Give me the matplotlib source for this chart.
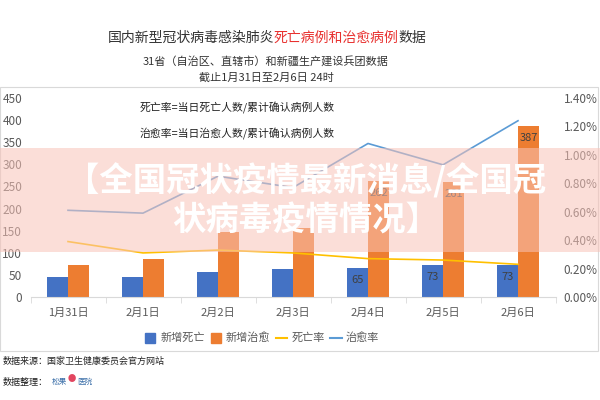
import matplotlib
matplotlib.use("Agg")
import matplotlib.pyplot as plt
from matplotlib.patches import Rectangle
from matplotlib.lines import Line2D
from matplotlib.ticker import FuncFormatter, MultipleLocator

plt.rcParams['font.family'] = ['Noto Sans CJK SC', 'DejaVu Sans']

dates = ["1月31日", "2月1日", "2月2日", "2月3日", "2月4日", "2月5日", "2月6日"]
new_deaths = [46, 45, 57, 64, 65, 73, 73]
new_cured = [72, 85, 147, 157, 262, 261, 387]
death_rate = [0.39, 0.31, 0.33, 0.31, 0.27, 0.26, 0.23]   # percent
cure_rate = [0.61, 0.59, 0.85, 0.77, 1.08, 0.93, 1.24]    # percent
labeled_days = [4, 5, 6]

C_BLUE = "#4472C4"
C_ORANGE = "#ED7D31"
C_YELLOW = "#FFC000"
C_LBLUE = "#5B9BD5"
C_TICK = "#595959"

fig = plt.figure(figsize=(6, 4), dpi=100)
fig.patch.set_facecolor("white")

# chart frame
fig.add_artist(Rectangle((0.0, 1 - 351 / 400), 598 / 600, (351 - 87) / 400,
                         transform=fig.transFigure, fill=False,
                         edgecolor="#D9D9D9", linewidth=0.8))

ax = fig.add_axes([30.5 / 600, 1 - 297 / 400, 525 / 600, 199 / 400])
ax2 = ax.twinx()

x = list(range(len(dates)))
w = 0.28
xb = [i - w / 2 for i in x]
xo = [i + w / 2 for i in x]
ax.bar(xb, new_deaths, width=w, color=C_BLUE, zorder=2)
ax.bar(xo, new_cured, width=w, color=C_ORANGE, zorder=2)

for i in labeled_days:
    ax.annotate(str(new_deaths[i]), (xb[i], new_deaths[i]), xytext=(0, -5),
                textcoords="offset points", ha="center", va="top",
                fontsize=8, color="#404040", zorder=3)
    ax.annotate(str(new_cured[i]), (xo[i], new_cured[i]), xytext=(0, -5),
                textcoords="offset points", ha="center", va="top",
                fontsize=8, color="#404040", zorder=3)

ax2.plot(x, death_rate, color=C_YELLOW, lw=1.2)
ax2.plot(x, cure_rate, color=C_LBLUE, lw=1.2)

ax.set_xlim(-0.5, len(dates) - 0.5)
ax.set_ylim(0, 450)
ax2.set_ylim(0, 1.4)
ax.yaxis.set_major_locator(MultipleLocator(50))
ax2.yaxis.set_major_locator(MultipleLocator(0.2))
ax2.yaxis.set_major_formatter(FuncFormatter(lambda v, p: f"{v:.2f}%"))

for a in (ax, ax2):
    for s in a.spines.values():
        s.set_visible(False)
ax.spines["bottom"].set_visible(True)
ax.spines["bottom"].set_color("#D9D9D9")

ax.set_xticks(x)
ax.set_xticklabels(dates, fontsize=8, color=C_TICK)
ax.set_xticks([i + 0.5 for i in range(-1, len(dates))], minor=True)
ax.tick_params(axis="x", which="major", length=0, pad=8)
ax.tick_params(axis="x", which="minor", length=4, color="#D9D9D9")
ax.tick_params(axis="y", length=0, labelsize=8.5, labelcolor=C_TICK, pad=6)
ax2.tick_params(axis="y", length=0, labelsize=8.5, labelcolor=C_TICK, pad=6)

fig.text(140 / 600, 1 - 108 / 400, "死亡率=当日死亡人数/累计确认病例人数",
         fontsize=7.8, color="#222222", va="center")
fig.text(140 / 600, 1 - 134 / 400, "治愈率=当日治愈人数/累计确认病例人数",
         fontsize=7.8, color="#222222", va="center")

# titles
fig.canvas.draw()
renderer = fig.canvas.get_renderer()
parts = [("国内新型冠状病毒感染肺炎", "#333333"), ("死亡病例和治愈病例", "#E8312F"), ("数据", "#333333")]
widths = []
tmp = []
for s, c in parts:
    t = fig.text(0, 0, s, fontsize=10, color=c)
    bb = t.get_window_extent(renderer)
    widths.append(bb.width)
    tmp.append(t)
total = sum(widths)
start = 267 - total / 2
for t, wdt in zip(tmp, widths):
    t.set_position((start / 600, 1 - 38 / 400))
    t.set_va("center")
    start += wdt

fig.text(266 / 600, 1 - 61 / 400, "31省（自治区、直辖市）和新疆生产建设兵团数据",
         fontsize=8, color="#333333", ha="center", va="center")
fig.text(266 / 600, 1 - 78 / 400, "截止1月31日至2月6日 24时",
         fontsize=8, color="#333333", ha="center", va="center")

# legend
handles = [
    Line2D([], [], marker="s", markersize=7, linestyle="none", color=C_BLUE),
    Line2D([], [], marker="s", markersize=7, linestyle="none", color=C_ORANGE),
    Line2D([], [], color=C_YELLOW, lw=1.5),
    Line2D([], [], color=C_LBLUE, lw=1.5),
]
fig.legend(handles, ["新增死亡", "新增治愈", "死亡率", "治愈率"], ncol=4,
           loc="center", bbox_to_anchor=(262 / 600, 1 - 338 / 400), frameon=False,
           fontsize=8, labelcolor="#595959", handlelength=1.0, handletextpad=0.4,
           columnspacing=0.5)

# footer
fig.text(3 / 600, 1 - 361 / 400, "数据来源：国家卫生健康委员会官方网站",
         fontsize=6.5, color="#222222", va="center")
fig.text(3 / 600, 1 - 383 / 400, "数据整理：", fontsize=6.5, color="#222222", va="center")
fig.text(52 / 600, 1 - 382 / 400, "松果", fontsize=5.5, color="#3A6EA8", va="center")
fig.text(68 / 600, 1 - 378 / 400, "●", fontsize=6, color="#E2455F", va="center")
fig.text(77 / 600, 1 - 382 / 400, "医院", fontsize=5.5, color="#3A6EA8", va="center")

# overlay banner
fig.add_artist(Rectangle((0, 1 - 252 / 400), 1, 104 / 400, transform=fig.transFigure,
                         facecolor=(249 / 255, 195 / 255, 184 / 255), alpha=0.55,
                         edgecolor="none", zorder=10))
fig.text(306 / 600, 1 - 181 / 400, "【全国冠状疫情最新消息/全国冠", fontsize=24,
         fontweight="bold", color="white", ha="center", va="center", zorder=11)
fig.text(306 / 600, 1 - 221 / 400, "状病毒疫情情况】", fontsize=24,
         fontweight="bold", color="white", ha="center", va="center", zorder=11)

fig.savefig("out.png", dpi=100)
